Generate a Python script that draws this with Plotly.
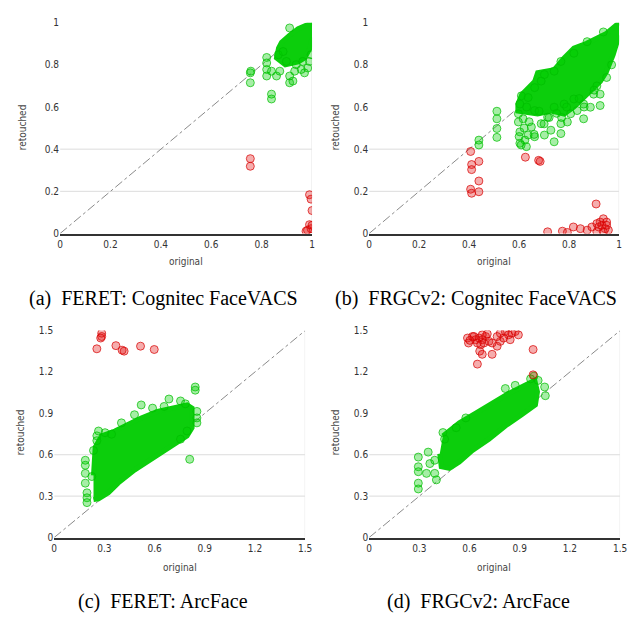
import plotly.graph_objects as go

# ---------------- data ----------------
# Panel (a) FERET: Cognitec FaceVACS
a_core_x = [1.0, 0.945, 0.91, 0.879, 0.867, 0.859, 0.894, 0.945, 0.971, 0.992, 1.0]
a_core_y = [1.0, 0.971, 0.94, 0.907, 0.879, 0.833, 0.80, 0.814, 0.833, 0.879, 0.93]
a_green_x = [0.911, 0.820, 0.820, 0.820, 0.820, 0.839, 0.859, 0.755, 0.757, 0.755, 0.839, 0.839,
             0.911, 0.924, 0.911, 0.970, 0.983, 0.872, 0.898, 0.931, 0.957, 0.996, 0.990, 0.866,
             0.885, 0.937, 0.963]
a_green_y = [0.975, 0.835, 0.809, 0.778, 0.747, 0.770, 0.747, 0.762, 0.770, 0.715, 0.661, 0.638,
             0.715, 0.723, 0.747, 0.762, 0.785, 0.770, 0.816, 0.770, 0.778, 0.848, 0.816, 0.848,
             0.863, 0.801, 0.816]
a_red_x = [0.755, 0.755, 0.990, 0.996, 1.0, 0.990, 0.996, 0.976, 1.0, 0.982]
a_red_y = [0.355, 0.319, 0.184, 0.163, 0.109, 0.042, 0.023, 0.011, 0.039, 0.016]

# Panel (b) FRGCv2: Cognitec FaceVACS
b_core_x = [1.0, 0.949, 0.870, 0.819, 0.780, 0.741, 0.674, 0.662, 0.611, 0.595, 0.595, 0.674,
            0.729, 0.780, 0.819, 0.858, 0.886, 0.925, 0.949, 0.976, 1.0]
b_core_y = [1.0, 0.949, 0.902, 0.879, 0.833, 0.777, 0.763, 0.721, 0.660, 0.614, 0.581, 0.567,
            0.581, 0.567, 0.600, 0.647, 0.674, 0.721, 0.767, 0.847, 0.940]
b_green_x = [0.511, 0.511, 0.511, 0.511, 0.439, 0.439, 0.609, 0.603, 0.597, 0.597, 0.603, 0.603,
             0.623, 0.636, 0.616, 0.649, 0.662, 0.701, 0.727, 0.740, 0.767, 0.767, 0.793, 0.858,
             0.885, 0.924, 0.924, 0.858, 0.832, 0.806, 0.714, 0.688, 0.662, 0.636, 0.662, 0.688,
             0.701, 0.740, 0.767, 0.819, 0.872, 0.937, 0.911, 0.898, 0.740, 0.780, 0.819, 0.629,
             0.608, 0.620, 0.640, 0.600, 0.660, 0.700, 0.720, 0.750, 0.680, 0.630, 0.860, 0.840,
             0.900, 0.950, 0.970, 0.790, 0.770]
b_green_y = [0.580, 0.544, 0.498, 0.456, 0.443, 0.420, 0.653, 0.614, 0.568, 0.529, 0.482, 0.428,
             0.443, 0.467, 0.544, 0.505, 0.459, 0.467, 0.490, 0.435, 0.474, 0.521, 0.529, 0.544,
             0.599, 0.661, 0.607, 0.614, 0.583, 0.568, 0.552, 0.521, 0.583, 0.645, 0.692, 0.723,
             0.754, 0.770, 0.816, 0.855, 0.910, 0.956, 0.700, 0.661, 0.599, 0.614, 0.638, 0.412,
             0.420, 0.500, 0.530, 0.460, 0.470, 0.520, 0.550, 0.570, 0.580, 0.600, 0.600, 0.640,
             0.680, 0.740, 0.800, 0.600, 0.550]
b_red_x = [0.406, 0.410, 0.410, 0.439, 0.439, 0.406, 0.410, 0.439, 0.625, 0.678, 0.684, 0.908,
           0.714, 0.773, 0.817, 0.845, 0.872, 0.891, 0.911, 0.924, 0.937, 0.950, 0.918, 0.944,
           0.937, 0.957, 0.931, 0.950, 0.793, 0.911]
b_red_y = [0.389, 0.327, 0.303, 0.342, 0.249, 0.210, 0.191, 0.198, 0.362, 0.347, 0.342, 0.140,
           0.008, 0.011, 0.031, 0.023, 0.016, 0.031, 0.008, 0.054, 0.070, 0.054, 0.031, 0.023,
           0.008, 0.016, 0.039, 0.039, 0.005, 0.047]

# Panel (c) FERET: ArcFace
c_core_x = [0.235, 0.245, 0.284, 0.363, 0.441, 0.520, 0.618, 0.716, 0.794, 0.824, 0.824, 0.794,
            0.716, 0.598, 0.480, 0.382, 0.324, 0.265, 0.235]
c_core_y = [0.45, 0.654, 0.737, 0.772, 0.820, 0.867, 0.914, 0.938, 0.961, 0.938, 0.796, 0.737,
            0.678, 0.583, 0.489, 0.394, 0.324, 0.281, 0.276]
c_green_x = [0.520, 0.588, 0.686, 0.755, 0.843, 0.843, 0.853, 0.853, 0.853, 0.810, 0.186, 0.186,
             0.186, 0.186, 0.196, 0.196, 0.196, 0.225, 0.255, 0.255, 0.304, 0.343, 0.480, 0.402,
             0.657, 0.784, 0.265, 0.235, 0.794, 0.755]
c_green_y = [0.961, 0.938, 1.004, 0.990, 1.091, 1.068, 0.914, 0.867, 0.831, 0.567, 0.560, 0.524,
             0.465, 0.394, 0.324, 0.288, 0.253, 0.442, 0.702, 0.737, 0.760, 0.749, 0.890, 0.831,
             0.950, 0.969, 0.772, 0.631, 0.772, 0.713]
c_red_x = [0.284, 0.284, 0.278, 0.255, 0.369, 0.406, 0.418, 0.516, 0.598]
c_red_y = [1.481, 1.457, 1.446, 1.368, 1.391, 1.358, 1.351, 1.387, 1.363]

# Panel (d) FRGCv2: ArcFace
d_core_x = [0.441, 0.539, 0.637, 0.735, 0.833, 0.931, 0.990, 1.006, 0.994, 0.912, 0.814, 0.716,
            0.618, 0.539, 0.480, 0.431, 0.422]
d_core_y = [0.737, 0.832, 0.902, 0.973, 1.044, 1.103, 1.139, 1.056, 0.961, 0.891, 0.808, 0.713,
            0.631, 0.548, 0.501, 0.513, 0.607]
d_green_x = [0.294, 0.294, 0.294, 0.294, 0.294, 0.353, 0.343, 0.392, 0.441, 0.451, 0.363, 0.814,
             0.873, 1.049, 1.053, 1.010, 0.402, 0.392, 0.578, 0.520, 0.985, 0.965]
d_green_y = [0.583, 0.513, 0.477, 0.394, 0.352, 0.619, 0.465, 0.465, 0.761, 0.713, 0.536, 1.080,
             1.103, 1.091, 1.028, 1.139, 0.418, 0.560, 0.867, 0.796, 1.170, 1.150]
d_red_x = [0.588, 0.594, 0.618, 0.637, 0.657, 0.676, 0.696, 0.706, 0.676, 0.647, 0.667, 0.686,
           0.661, 0.676, 0.735, 0.765, 0.784, 0.784, 0.814, 0.833, 0.853, 0.873, 0.892, 0.843,
           0.804, 0.765, 0.716, 0.980, 0.647, 0.627, 0.602, 0.735, 0.980]
d_red_y = [1.446, 1.410, 1.457, 1.434, 1.446, 1.434, 1.457, 1.476, 1.469, 1.410, 1.398, 1.410,
           1.351, 1.328, 1.328, 1.387, 1.422, 1.481, 1.493, 1.469, 1.481, 1.493, 1.469, 1.434,
           1.446, 1.457, 1.422, 1.363, 1.257, 1.457, 1.429, 1.410, 1.179]

a_ticks = [0, 0.2, 0.4, 0.6, 0.8, 1]
a_ticklabels = ["0", "0.2", "0.4", "0.6", "0.8", "1"]
c_ticks = [0, 0.3, 0.6, 0.9, 1.2, 1.5]
c_ticklabels = ["0", "0.3", "0.6", "0.9", "1.2", "1.5"]
a_grid = [0.2, 0.4]
c_grid = [0.3, 0.6]

captions = ["(a)\u00a0 FERET: Cognitec FaceVACS", "(b)\u00a0 FRGCv2: Cognitec FaceVACS",
            "(c)\u00a0 FERET: ArcFace", "(d)\u00a0 FRGCv2: ArcFace"]

# ---------------- layout geometry ----------------
W, H = 634, 620
panels = [
    dict(core=(a_core_x, a_core_y), green=(a_green_x, a_green_y), red=(a_red_x, a_red_y),
         xpx=(58, 314), ypx=(232, 17), vmax=1.0, ticks=a_ticks, labels=a_ticklabels, grid=a_grid,
         cap=(163, 298), xt=(186, 261), yt=(20, 124)),
    dict(core=(b_core_x, b_core_y), green=(b_green_x, b_green_y), red=(b_red_x, b_red_y),
         xpx=(372, 626), ypx=(232, 17), vmax=1.0, ticks=a_ticks, labels=a_ticklabels, grid=a_grid,
         cap=(481, 298), xt=(499, 261), yt=(338, 124)),
    dict(core=(c_core_x, c_core_y), green=(c_green_x, c_green_y), red=(c_red_x, c_red_y),
         xpx=(52, 307), ypx=(542, 331), vmax=1.5, ticks=c_ticks, labels=c_ticklabels, grid=c_grid,
         cap=(163, 607), xt=(180, 573), yt=(18, 435)),
    dict(core=(d_core_x, d_core_y), green=(d_green_x, d_green_y), red=(d_red_x, d_red_y),
         xpx=(372, 627), ypx=(542, 331), vmax=1.5, ticks=c_ticks, labels=c_ticklabels, grid=c_grid,
         cap=(483, 607), xt=(499, 573), yt=(338, 435)),
]

GREEN_CORE = "rgb(12,206,12)"
GREEN_FILL = "rgba(0,205,0,0.35)"
GREEN_LINE = "rgba(0,190,0,0.70)"
RED_FILL = "rgba(225,20,20,0.35)"
RED_LINE = "rgba(215,0,0,0.70)"
TICKFONT = dict(family="DejaVu Sans Condensed, Liberation Sans, sans-serif", size=10, color="#333")

fig = go.Figure()
shapes = []
annotations = []
layout = {}

for i, p in enumerate(panels):
    n = "" if i == 0 else str(i + 1)
    xa, ya = "x" + n, "y" + n
    vmax = p["vmax"]
    # diagonal reference line
    fig.add_trace(go.Scatter(x=[0, vmax], y=[0, vmax], mode="lines", xaxis=xa, yaxis=ya,
                             line=dict(color="#8a8a8a", width=1, dash="dashdot"),
                             hoverinfo="skip", showlegend=False))
    # dense core
    cx, cy = p["core"]
    fig.add_trace(go.Scatter(x=cx, y=cy, mode="lines", fill="toself", fillcolor=GREEN_CORE,
                             line=dict(color=GREEN_CORE, width=5), xaxis=xa, yaxis=ya,
                             showlegend=False, hoverinfo="skip"))
    gx, gy = p["green"]
    fig.add_trace(go.Scatter(x=gx, y=gy, mode="markers", xaxis=xa, yaxis=ya, showlegend=False,
                             marker=dict(size=8, color=GREEN_FILL, line=dict(color=GREEN_LINE, width=1))))
    rx, ry = p["red"]
    fig.add_trace(go.Scatter(x=rx, y=ry, mode="markers", xaxis=xa, yaxis=ya, showlegend=False,
                             marker=dict(size=8, color=RED_FILL, line=dict(color=RED_LINE, width=1))))

    x0, x1 = p["xpx"]
    yb, yt = p["ypx"]
    layout["xaxis" + n] = dict(domain=[x0 / W, x1 / W], range=[0, vmax], anchor=ya,
                               tickvals=p["ticks"], ticktext=p["labels"], showgrid=False,
                               zeroline=False, showline=True, linecolor="#333", linewidth=2,
                               ticks="", tickfont=TICKFONT, fixedrange=True)
    layout["yaxis" + n] = dict(domain=[1 - yb / H, 1 - yt / H], range=[0, vmax], anchor=xa,
                               tickvals=p["ticks"], ticktext=p["labels"], showgrid=False,
                               zeroline=False, showline=False, ticks="", tickfont=TICKFONT,
                               fixedrange=True)
    for g in p["grid"]:
        shapes.append(dict(type="line", xref=xa, yref=ya, x0=0, x1=vmax, y0=g, y1=g,
                           line=dict(color="#dcdcdc", width=1), layer="below"))
    shapes.append(dict(type="line", xref=xa, yref=ya, x0=vmax, x1=vmax, y0=0, y1=vmax,
                       line=dict(color="#e4e4e4", width=1), layer="below"))

    annotations.append(dict(text=captions[i], x=p["cap"][0] / W, y=1 - p["cap"][1] / H,
                            xref="paper", yref="paper", showarrow=False, xanchor="center",
                            yanchor="middle",
                            font=dict(family="Liberation Serif, Times New Roman, serif",
                                      size=20, color="#000")))
    annotations.append(dict(text="original", x=p["xt"][0] / W, y=1 - p["xt"][1] / H,
                            xref="paper", yref="paper", showarrow=False, xanchor="center",
                            yanchor="middle", font=dict(family=TICKFONT["family"], size=10,
                                                        color="#444")))
    annotations.append(dict(text="retouched", x=p["yt"][0] / W, y=1 - p["yt"][1] / H,
                            xref="paper", yref="paper", showarrow=False, xanchor="center",
                            yanchor="middle", textangle=-90,
                            font=dict(family=TICKFONT["family"], size=10, color="#444")))

fig.update_layout(width=W, height=H, margin=dict(l=0, r=0, t=0, b=0),
                  paper_bgcolor="white", plot_bgcolor="white", showlegend=False,
                  shapes=shapes, annotations=annotations, **layout)

fig.write_html("out.html", config={"displayModeBar": False},
               post_script="document.body.style.margin='0px';")
